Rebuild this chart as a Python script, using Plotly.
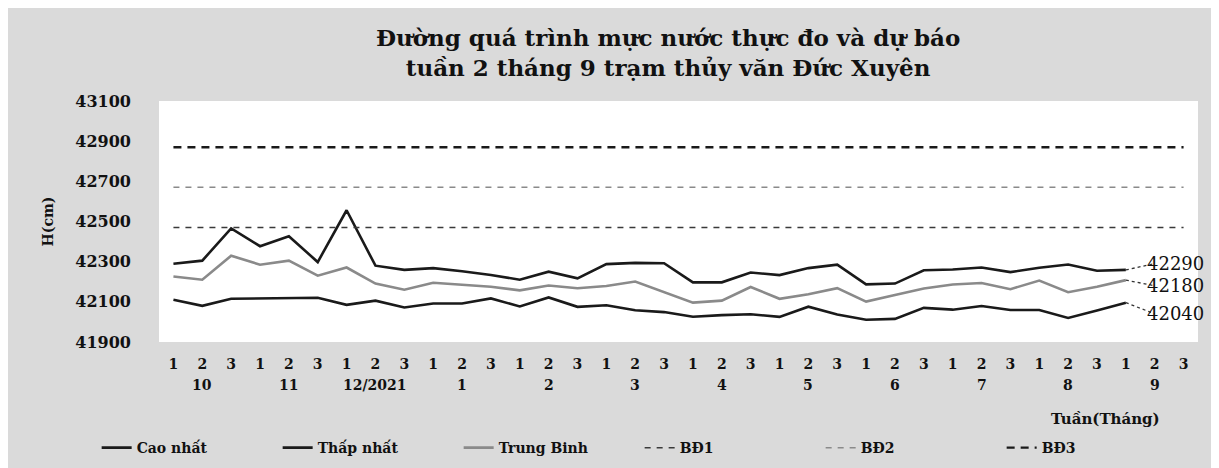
import plotly.graph_objects as go

# ---- data ----
week_labels = ["1", "2", "3"] * 12
month_labels = ["10", "11", "12/2021", "1", "2", "3", "4", "5", "6", "7", "8", "9"]
cao_nhat = [42290, 42305, 42466, 42377, 42427, 42298, 42556, 42280, 42259, 42268, 42252, 42234,
            42210, 42250, 42217, 42288, 42294, 42292, 42197, 42197, 42246, 42233, 42268,
            42285, 42187, 42191, 42257, 42261, 42271, 42248, 42270, 42286, 42255, 42259]
trung_binh = [42226, 42210, 42330, 42285, 42305, 42230, 42271, 42191, 42160, 42195, 42185, 42175,
              42157, 42181, 42168, 42179, 42201, 42148, 42096, 42106, 42174, 42115, 42138,
              42168, 42101, 42134, 42166, 42186, 42194, 42163, 42206, 42148, 42175, 42208]
thap_nhat = [42110, 42080, 42115, 42117, 42118, 42120, 42085, 42106, 42072, 42092, 42092, 42117,
             42077, 42122, 42075, 42083, 42058, 42049, 42026, 42034, 42038, 42025, 42076,
             42037, 42011, 42015, 42070, 42061, 42079, 42059, 42059, 42020, 42057, 42096]
forecast = {"Cao nhất": 42290, "Trung Binh": 42180, "Thấp nhất": 42040}
bd_levels = {"BĐ1": 42470, "BĐ2": 42670, "BĐ3": 42870}
y_ticks = [41900, 42100, 42300, 42500, 42700, 42900, 43100]

n_weeks = len(week_labels)
x_idx = list(range(n_weeks))
x_obs = list(range(len(cao_nhat)))
fc_x = len(cao_nhat)

FONT = "DejaVu Serif"
INK = "#111111"
fig = go.Figure()

fig.add_trace(go.Scatter(x=x_obs, y=cao_nhat, mode="lines", name="Cao nhất",
                         line=dict(color="#1a1a1a", width=2.6)))
fig.add_trace(go.Scatter(x=x_obs, y=thap_nhat, mode="lines", name="Thấp nhất",
                         line=dict(color="#1a1a1a", width=2.6)))
fig.add_trace(go.Scatter(x=x_obs, y=trung_binh, mode="lines", name="Trung Binh",
                         line=dict(color="#8a8a8a", width=2.6)))

bd_styles = {
    "BĐ1": dict(color="#3a3a3a", width=1.5, dash="6px,6px"),
    "BĐ2": dict(color="#8a8a8a", width=1.5, dash="6px,6px"),
    "BĐ3": dict(color="#1a1a1a", width=2.4, dash="8px,6px"),
}
for name, lvl in bd_levels.items():
    fig.add_trace(go.Scatter(x=[x_idx[0], x_idx[-1]], y=[lvl, lvl], mode="lines",
                             name=name, line=bd_styles[name]))

annotations = []
last = {"Cao nhất": cao_nhat[-1], "Trung Binh": trung_binh[-1], "Thấp nhất": thap_nhat[-1]}
for name, val in forecast.items():
    fig.add_trace(go.Scatter(x=[x_obs[-1], fc_x], y=[last[name], val], mode="lines",
                             line=dict(color="#333333", width=1.3, dash="dot"),
                             showlegend=False, hoverinfo="skip"))
    annotations.append(dict(x=fc_x, y=val, xref="x", yref="y", text=str(val),
                            showarrow=False, xanchor="left", yanchor="middle", xshift=-10,
                            font=dict(family=FONT, size=18, color=INK)))

for i, m in enumerate(month_labels):
    annotations.append(dict(x=3 * i + 1, y=-0.18, xref="x", yref="paper", text=m,
                            showarrow=False, yanchor="middle",
                            font=dict(family=FONT, size=14, color=INK, weight="bold")))
annotations.append(dict(x=32.3, xref="x", y=-0.32, yref="paper", yanchor="middle",
                        text="Tuần(Tháng)", showarrow=False,
                        font=dict(family=FONT, size=15, color=INK, weight="bold")))

fig.update_layout(
    width=1219, height=468,
    margin=dict(l=151, r=29, t=93, b=125),
    paper_bgcolor="#dadada",
    plot_bgcolor="#ffffff",
    title=dict(text="Đường quá trình mực nước thực đo và dự báo<br>tuần 2 tháng 9 trạm thủy văn Đức Xuyên",
               x=0.5415, xanchor="center", y=0.918, yref="container", yanchor="middle",
               font=dict(family=FONT, size=23, color=INK, weight="bold")),
    xaxis=dict(range=[-0.5, n_weeks - 0.5], tickmode="array", tickvals=x_idx, ticktext=week_labels,
               showgrid=False, zeroline=False, showline=False, ticks="", ticklabelstandoff=12,
               automargin=False,
               tickfont=dict(family=FONT, size=14, color=INK, weight="bold")),
    yaxis=dict(range=[41900, 43100], tickmode="array", tickvals=y_ticks,
               ticktext=[str(v) for v in y_ticks],
               showgrid=False, zeroline=False, showline=False, ticks="", ticklabelstandoff=27,
               automargin=False,
               tickfont=dict(family=FONT, size=16, color=INK, weight="bold"),
               title=dict(text="H(cm)", standoff=18,
                          font=dict(family=FONT, size=14, color=INK, weight="bold"))),
    legend=dict(orientation="h", x=-0.06, xanchor="left", y=-0.44, yanchor="middle",
                bgcolor="rgba(0,0,0,0)", entrywidth=136, entrywidthmode="pixels",
                font=dict(family=FONT, size=14, color=INK, weight="bold")),
    annotations=annotations,
    showlegend=True,
)

fig.write_html("out.html")
